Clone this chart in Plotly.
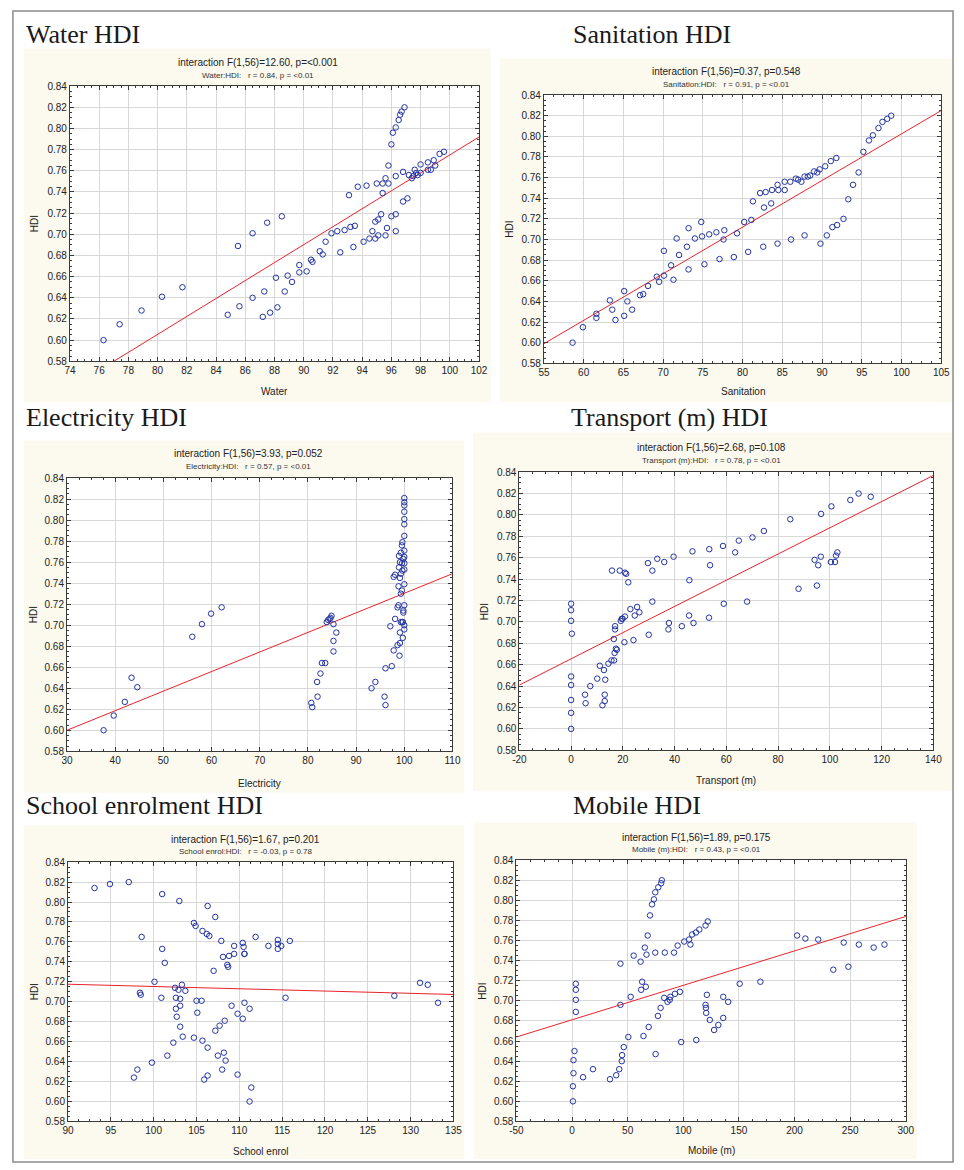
import plotly.graph_objects as go

W, H = 964, 1170

# ---------------- data ----------------
hdi_ticks = [0.58, 0.60, 0.62, 0.64, 0.66, 0.68, 0.70, 0.72, 0.74, 0.76, 0.78, 0.80, 0.82, 0.84]
hdi_ticktext = ["0.58", "0.60", "0.62", "0.64", "0.66", "0.68", "0.70", "0.72", "0.74", "0.76", "0.78", "0.80", "0.82", "0.84"]

water_x = [76.3, 77.4, 78.9, 80.3, 81.7, 84.8, 85.5, 85.6, 86.5, 86.5,
           87.2, 87.3, 87.5, 87.7, 88.1, 88.2, 88.5, 88.7, 88.9, 89.2,
           89.7, 89.7, 90.2, 90.5, 90.6, 91.1, 91.3, 91.5, 91.9, 92.3,
           92.5, 92.8, 93.1, 93.2, 93.4, 93.5, 93.7, 94.1, 94.3, 94.5,
           94.7, 94.9, 94.9, 95.0, 95.1, 95.1, 95.3, 95.4, 95.4, 95.6,
           95.6, 95.7, 95.8, 95.8, 96.0, 96.0, 96.1, 96.3, 96.3, 96.3,
           96.3, 96.5, 96.6, 96.7, 96.8, 96.8, 96.9, 97.1, 97.2, 97.4,
           97.5, 97.6, 97.7, 97.8, 98.0, 98.0, 98.5, 98.5, 98.7, 98.9,
           99.0, 99.3, 99.6]
water_hdi = [0.600, 0.615, 0.628, 0.641, 0.650, 0.624, 0.689, 0.632, 0.701, 0.640,
             0.622, 0.646, 0.711, 0.626, 0.659, 0.631, 0.717, 0.646, 0.661, 0.655,
             0.671, 0.664, 0.665, 0.676, 0.674, 0.684, 0.681, 0.693, 0.701, 0.703,
             0.683, 0.704, 0.737, 0.707, 0.688, 0.708, 0.745, 0.693, 0.746, 0.696,
             0.703, 0.696, 0.712, 0.748, 0.714, 0.699, 0.719, 0.748, 0.739, 0.699,
             0.753, 0.706, 0.765, 0.748, 0.785, 0.717, 0.796, 0.703, 0.801, 0.755,
             0.719, 0.808, 0.813, 0.816, 0.759, 0.731, 0.820, 0.734, 0.756, 0.753,
             0.755, 0.761, 0.758, 0.756, 0.758, 0.766, 0.768, 0.761, 0.761, 0.770,
             0.765, 0.776, 0.778]
water_fit_x = [77, 102]
water_fit_y = [0.580, 0.792]
water_ticks = [74, 76, 78, 80, 82, 84, 86, 88, 90, 92, 94, 96, 98, 100, 102]
water_ticktext = ["74", "76", "78", "80", "82", "84", "86", "88", "90", "92", "94", "96", "98", "100", "102"]

sanitation_x = [58.6, 59.9, 61.6, 61.6, 63.3, 63.6, 64.0, 65.1, 65.1, 65.5,
                66.1, 67.1, 67.5, 68.1, 69.2, 69.5, 70.1, 70.1, 71.0, 71.3,
                71.7, 72.0, 73.0, 73.2, 73.2, 74.0, 74.8, 74.9, 75.2, 75.8,
                76.7, 77.1, 77.6, 77.7, 78.9, 79.3, 80.2, 80.7, 81.1, 81.3,
                82.2, 82.6, 82.7, 82.9, 83.6, 83.7, 84.4, 84.4, 84.5, 85.3,
                85.3, 86.0, 86.1, 86.7, 87.0, 87.4, 87.8, 87.8, 88.2, 88.5,
                89.0, 89.4, 89.7, 89.8, 90.4, 90.6, 91.1, 91.3, 91.8, 91.9,
                92.7, 93.3, 93.9, 94.6, 95.2, 95.9, 96.4, 97.1, 97.6, 98.2,
                98.7]
sanitation_hdi = [0.600, 0.615, 0.628, 0.624, 0.641, 0.632, 0.622, 0.650, 0.626, 0.640,
                  0.632, 0.646, 0.647, 0.655, 0.664, 0.659, 0.689, 0.665, 0.675, 0.661,
                  0.701, 0.685, 0.693, 0.711, 0.671, 0.701, 0.717, 0.703, 0.676, 0.705,
                  0.707, 0.681, 0.700, 0.709, 0.683, 0.706, 0.717, 0.688, 0.719, 0.737,
                  0.745, 0.693, 0.731, 0.746, 0.735, 0.748, 0.696, 0.753, 0.748, 0.756,
                  0.748, 0.756, 0.700, 0.759, 0.758, 0.756, 0.704, 0.761, 0.761, 0.762,
                  0.766, 0.765, 0.768, 0.696, 0.771, 0.704, 0.776, 0.712, 0.779, 0.714,
                  0.720, 0.739, 0.753, 0.765, 0.785, 0.796, 0.801, 0.808, 0.814, 0.817,
                  0.820]
sanitation_fit_x = [55, 105]
sanitation_fit_y = [0.599, 0.825]
sanitation_ticks = [55, 60, 65, 70, 75, 80, 85, 90, 95, 100, 105]
sanitation_ticktext = ["55", "60", "65", "70", "75", "80", "85", "90", "95", "100", "105"]

electricity_x = [37.6, 39.7, 42.0, 43.4, 44.6, 56.0, 58.0, 59.9, 62.1, 80.7,
                 80.9, 81.9, 82.0, 82.6, 82.9, 83.6, 83.9, 84.2, 84.5, 84.7,
                 84.9, 85.3, 85.3, 85.3, 85.9, 93.2, 94.0, 95.9, 96.1, 96.1,
                 97.4, 97.1, 97.8, 98.1, 97.8, 98.1, 98.6, 98.6, 98.8, 98.8,
                 99.0, 99.1, 99.1, 99.3, 99.1, 98.9, 98.9, 99.3, 99.5, 99.3,
                 99.5, 99.6, 99.7, 99.7, 99.8, 99.8, 100.0, 100.0, 100.0, 100.0,
                 100.0, 100.0, 100.0, 100.0, 100.0, 100.0, 100.0, 100.0, 100.0, 100.0,
                 100.0, 99.5, 99.6, 99.1, 99.8, 99.6, 99.3]
electricity_hdi = [0.600, 0.614, 0.627, 0.650, 0.641, 0.689, 0.701, 0.711, 0.717, 0.626,
                   0.622, 0.646, 0.632, 0.654, 0.664, 0.664, 0.703, 0.705, 0.706, 0.707,
                   0.709, 0.701, 0.685, 0.675, 0.693, 0.640, 0.646, 0.632, 0.624, 0.659,
                   0.661, 0.699, 0.676, 0.706, 0.746, 0.748, 0.681, 0.717, 0.737, 0.719,
                   0.671, 0.683, 0.693, 0.703, 0.745, 0.755, 0.766, 0.730, 0.733, 0.769,
                   0.776, 0.779, 0.688, 0.703, 0.712, 0.714, 0.696, 0.700, 0.719, 0.739,
                   0.753, 0.759, 0.765, 0.771, 0.785, 0.796, 0.801, 0.808, 0.814, 0.817,
                   0.821, 0.759, 0.752, 0.760, 0.763, 0.703, 0.749]
electricity_fit_x = [30, 110]
electricity_fit_y = [0.600, 0.749]
electricity_ticks = [30, 40, 50, 60, 70, 80, 90, 100, 110]
electricity_ticktext = ["30", "40", "50", "60", "70", "80", "90", "100", "110"]

transport_x = [0, 0, 0, 0.3, 0, 0, 0, 0, 0, 5.4,
               5.6, 7.4, 10.1, 11.1, 12.1, 12.7, 13.0, 13.0, 13.2, 14.4,
               15.8, 15.6, 16.6, 16.5, 16.8, 17.0, 17.0, 17.3, 17.7, 18.8,
               19.2, 19.6, 19.9, 20.8, 20.6, 20.8, 21.3, 22.1, 22.9, 24.1,
               24.6, 25.5, 26.4, 29.7, 30.0, 31.4, 31.4, 33.3, 36.0, 37.6,
               37.8, 39.6, 42.8, 45.6, 45.7, 46.9, 47.3, 53.3, 53.4, 53.7,
               58.7, 59.0, 63.4, 64.8, 68.0, 70.1, 74.5, 84.7, 87.9, 94.1,
               95.0, 95.5, 96.5, 96.6, 100.4, 100.6, 102.0, 102.4, 102.9, 107.9,
               111.1, 115.8]
transport_hdi = [0.717, 0.711, 0.701, 0.689, 0.649, 0.641, 0.627, 0.615, 0.600, 0.632,
                 0.624, 0.640, 0.647, 0.659, 0.622, 0.655, 0.626, 0.632, 0.646, 0.661,
                 0.748, 0.664, 0.664, 0.684, 0.671, 0.696, 0.693, 0.675, 0.674, 0.748,
                 0.701, 0.703, 0.703, 0.705, 0.681, 0.746, 0.745, 0.737, 0.712, 0.683,
                 0.706, 0.714, 0.709, 0.755, 0.688, 0.748, 0.719, 0.759, 0.756, 0.693,
                 0.699, 0.761, 0.696, 0.706, 0.739, 0.766, 0.699, 0.704, 0.768, 0.753,
                 0.771, 0.717, 0.765, 0.776, 0.719, 0.779, 0.785, 0.796, 0.731, 0.758,
                 0.734, 0.753, 0.761, 0.801, 0.756, 0.808, 0.756, 0.762, 0.765, 0.814,
                 0.820, 0.817]
transport_fit_x = [-20, 140]
transport_fit_y = [0.641, 0.837]
transport_ticks = [-20, 0, 20, 40, 60, 80, 100, 120, 140]
transport_ticktext = ["-20", "0", "20", "40", "60", "80", "100", "120", "140"]

school_x = [93.1, 94.9, 97.1, 97.7, 98.1, 98.4, 98.5, 98.6, 99.8, 100.1,
            100.9, 101.0, 101.0, 101.3, 101.6, 102.3, 102.5, 102.6, 102.6, 102.7,
            102.9, 103.0, 103.1, 103.1, 103.1, 103.3, 103.4, 103.7, 104.7, 104.7,
            104.9, 105.0, 105.1, 105.6, 105.7, 105.7, 105.9, 106.2, 106.3, 106.3,
            106.3, 106.5, 107.0, 107.2, 107.2, 107.5, 107.7, 107.9, 108.0, 108.1,
            108.2, 108.3, 108.4, 108.6, 108.7, 108.8, 109.1, 109.4, 109.4, 109.8,
            109.8, 110.4, 110.4, 110.5, 110.6, 110.6, 110.6, 111.2, 111.2, 111.4,
            111.9, 113.4, 114.5, 114.5, 114.5, 114.9, 115.4, 115.9, 128.1, 131.1,
            132.0, 133.2]
school_hdi = [0.814, 0.818, 0.820, 0.624, 0.632, 0.709, 0.707, 0.765, 0.639, 0.720,
              0.704, 0.808, 0.753, 0.739, 0.646, 0.659, 0.714, 0.704, 0.693, 0.685,
              0.712, 0.801, 0.703, 0.696, 0.675, 0.717, 0.665, 0.711, 0.779, 0.664,
              0.776, 0.701, 0.689, 0.701, 0.771, 0.661, 0.622, 0.768, 0.796, 0.626,
              0.654, 0.766, 0.731, 0.785, 0.671, 0.646, 0.676, 0.761, 0.632, 0.745,
              0.649, 0.681, 0.641, 0.737, 0.735, 0.746, 0.696, 0.748, 0.756, 0.688,
              0.627, 0.683, 0.759, 0.755, 0.748, 0.748, 0.699, 0.693, 0.600, 0.614,
              0.765, 0.756, 0.762, 0.758, 0.753, 0.756, 0.704, 0.761, 0.706, 0.719,
              0.717, 0.699]
school_fit_x = [90, 135]
school_fit_y = [0.7176, 0.7073]
school_ticks = [90, 95, 100, 105, 110, 115, 120, 125, 130, 135]
school_ticktext = ["90", "95", "100", "105", "110", "115", "120", "125", "130", "135"]

mobile_x = [3.4, 3.4, 3.4, 3.4, 2.2, 1.3, 1.3, 0.8, 0.8, 9.9,
            18.8, 34.1, 39.7, 42.4, 43.5, 43.5, 44.7, 45.0, 46.5, 50.6,
            52.7, 55.4, 61.6, 62.1, 63.0, 64.2, 65.4, 66.3, 66.9, 68.0,
            68.9, 70.1, 71.9, 73.6, 74.8, 74.8, 75.1, 77.2, 77.5, 79.6,
            80.1, 80.7, 82.8, 83.4, 85.8, 87.8, 88.4, 91.7, 92.5, 94.9,
            97.0, 98.1, 100.8, 105.2, 106.4, 107.9, 111.4, 111.7, 114.4, 120.0,
            120.0, 120.3, 120.6, 121.2, 122.0, 123.8, 127.7, 131.5, 135.9, 135.9,
            140.3, 150.7, 169.3, 202.3, 209.7, 221.2, 234.8, 244.2, 248.4, 257.8,
            271.1, 280.8]
mobile_hdi = [0.717, 0.711, 0.701, 0.689, 0.650, 0.641, 0.628, 0.615, 0.600, 0.624,
              0.632, 0.622, 0.626, 0.632, 0.737, 0.696, 0.640, 0.646, 0.654, 0.664,
              0.704, 0.745, 0.739, 0.711, 0.719, 0.665, 0.753, 0.714, 0.746, 0.765,
              0.674, 0.785, 0.796, 0.801, 0.808, 0.748, 0.647, 0.685, 0.813, 0.693,
              0.817, 0.820, 0.703, 0.748, 0.699, 0.701, 0.704, 0.748, 0.707, 0.755,
              0.709, 0.659, 0.759, 0.761, 0.756, 0.766, 0.768, 0.661, 0.771, 0.775,
              0.696, 0.693, 0.688, 0.706, 0.779, 0.681, 0.671, 0.676, 0.704, 0.683,
              0.699, 0.717, 0.719, 0.765, 0.762, 0.761, 0.731, 0.758, 0.734, 0.756,
              0.753, 0.756]
mobile_fit_x = [-50, 300]
mobile_fit_y = [0.664, 0.784]
mobile_ticks = [-50, 0, 50, 100, 150, 200, 250, 300]
mobile_ticktext = ["-50", "0", "50", "100", "150", "200", "250", "300"]

panel_titles = ["Water HDI", "Sanitation HDI", "Electricity HDI", "Transport (m) HDI",
                "School enrolment HDI", "Mobile HDI"]
interaction_texts = ["interaction F(1,56)=12.60, p=<0.001", "interaction F(1,56)=0.37, p=0.548",
                     "interaction F(1,56)=3.93, p=0.052", "interaction F(1,56)=2.68, p=0.108",
                     "interaction F(1,56)=1.67, p=0.201", "interaction F(1,56)=1.89, p=0.175"]
correlation_texts = ["Water:HDI:   r = 0.84, p = <0.01", "Sanitation:HDI:   r = 0.91, p = <0.01",
                     "Electricity:HDI:   r = 0.57, p = <0.01", "Transport (m):HDI:   r = 0.78, p = <0.01",
                     "School enrol:HDI:   r = -0.03, p = 0.78", "Mobile (m):HDI:   r = 0.43, p = <0.01"]
x_labels = ["Water", "Sanitation", "Electricity", "Transport (m)", "School enrol", "Mobile (m)"]

series = [
    (water_x, water_hdi, water_fit_x, water_fit_y, water_ticks, water_ticktext, 2),
    (sanitation_x, sanitation_hdi, sanitation_fit_x, sanitation_fit_y, sanitation_ticks, sanitation_ticktext, 5),
    (electricity_x, electricity_hdi, electricity_fit_x, electricity_fit_y, electricity_ticks, electricity_ticktext, 10),
    (transport_x, transport_hdi, transport_fit_x, transport_fit_y, transport_ticks, transport_ticktext, 20),
    (school_x, school_hdi, school_fit_x, school_fit_y, school_ticks, school_ticktext, 5),
    (mobile_x, mobile_hdi, mobile_fit_x, mobile_fit_y, mobile_ticks, mobile_ticktext, 50),
]

# ---------------- layout geometry (pixels) ----------------
geom = [
    dict(box=(17, 43, 492, 400), plot=(64, 81, 480, 359), title=(18, 28.5), iy=57, cy=70, cx=255, xly=390, hx=28),
    dict(box=(501, 53, 962, 400), plot=(546, 90, 950, 361), title=(575, 28.5), iy=66, cy=79, cx=732, xly=390, hx=511),
    dict(box=(17, 439, 465, 795), plot=(61, 477, 453, 753), title=(18, 416), iy=452, cy=465, cx=246, xly=786, hx=27),
    dict(box=(474, 431, 962, 793), plot=(521, 471, 942, 752), title=(573, 416), iy=446, cy=459, cx=716, xly=783, hx=485),
    dict(box=(17, 828, 465, 1165), plot=(62, 865, 454, 1127), title=(18, 808), iy=842, cy=854, cx=243, xly=1157, hx=28),
    dict(box=(475, 825, 925, 1165), plot=(518, 863, 914, 1127), title=(575, 808), iy=840, cy=852, cx=701, xly=1156, hx=484),
]


def fx(p):
    return p / W


def fy(p):
    return 1 - p / H


SANS = "Liberation Sans, Arial, sans-serif"
SERIF = "Liberation Serif, Times New Roman, serif"
BEIGE = "#FCF9EF"
GRID = "#D8D8D8"
FRAME = "#3A3A3A"
BLUE = "#2334A3"
RED = "#E8232B"

fig = go.Figure()
shapes = []
annotations = []
layout_axes = {}

for i, ((xs, ys, fxs, fys, xt, xtt, xd), g) in enumerate(zip(series, geom), start=1):
    xa = "x" if i == 1 else f"x{i}"
    ya = "y" if i == 1 else f"y{i}"
    fig.add_trace(go.Scatter(x=fxs, y=fys, mode="lines", xaxis=xa, yaxis=ya,
                             line=dict(color=RED, width=1), showlegend=False, hoverinfo="skip"))
    fig.add_trace(go.Scatter(x=xs, y=ys, mode="markers", xaxis=xa, yaxis=ya,
                             marker=dict(symbol="circle-open", size=5.5, color=BLUE, line=dict(width=1)),
                             showlegend=False))
    px0, py0, px1, py1 = g["plot"]
    bx0, by0, bx1, by1 = g["box"]
    shapes.append(dict(type="rect", xref="paper", yref="paper", x0=fx(bx0), x1=fx(bx1),
                       y0=fy(by1), y1=fy(by0), fillcolor=BEIGE, line=dict(width=0), layer="below"))
    shapes.append(dict(type="rect", xref="paper", yref="paper", x0=fx(px0), x1=fx(px1),
                       y0=fy(py1), y1=fy(py0), fillcolor="white", line=dict(width=0), layer="below"))
    xkey = "xaxis" if i == 1 else f"xaxis{i}"
    ykey = "yaxis" if i == 1 else f"yaxis{i}"
    common = dict(showline=True, linecolor=FRAME, linewidth=1, mirror="ticks",
                  ticks="inside", ticklen=4, tickcolor=FRAME, tickwidth=1,
                  showgrid=True, gridcolor=GRID, gridwidth=1, zeroline=False,
                  tickfont=dict(family=SANS, size=10, color="#222"), tickmode="array")
    layout_axes[xkey] = dict(common, domain=[fx(px0), fx(px1)], anchor=ya, range=[xt[0], xt[-1]],
                             tickvals=xt, ticktext=xtt,
                             minor=dict(tickmode="linear", tick0=xt[0], dtick=xd / 4, ticks="inside",
                                        ticklen=2, tickcolor=FRAME, showgrid=False))
    layout_axes[ykey] = dict(common, domain=[fy(py1), fy(py0)], anchor=xa, range=[0.58, 0.84],
                             tickvals=hdi_ticks, ticktext=hdi_ticktext,
                             minor=dict(tickmode="linear", tick0=0.58, dtick=0.005, ticks="inside",
                                        ticklen=2, tickcolor=FRAME, showgrid=False))
    tx, ty = g["title"]
    annotations.append(dict(text=panel_titles[i - 1], x=fx(tx), y=fy(ty), xref="paper", yref="paper",
                            xanchor="left", yanchor="middle", showarrow=False, borderpad=0,
                            font=dict(family=SERIF, size=26, color="#1a1a1a")))
    annotations.append(dict(text=interaction_texts[i - 1], x=fx(g["cx"]), y=fy(g["iy"]), xref="paper",
                            yref="paper", xanchor="center", yanchor="middle", showarrow=False,
                            font=dict(family=SANS, size=10, color="#222")))
    annotations.append(dict(text=correlation_texts[i - 1].replace(" ", "\u00a0"), x=fx(g["cx"]), y=fy(g["cy"]),
                            xref="paper", yref="paper", xanchor="center", yanchor="middle", showarrow=False,
                            font=dict(family=SANS, size=8, color="#333")))
    annotations.append(dict(text=x_labels[i - 1], x=fx((px0 + px1) / 2), y=fy(g["xly"]), xref="paper",
                            yref="paper", xanchor="center", yanchor="middle", showarrow=False,
                            font=dict(family=SANS, size=10, color="#222")))
    annotations.append(dict(text="HDI", x=fx(g["hx"]), y=fy((py0 + py1) / 2), xref="paper", yref="paper",
                            xanchor="center", yanchor="middle", textangle=-90, showarrow=False,
                            font=dict(family=SANS, size=10, color="#222")))

# outer frame
shapes.append(dict(type="rect", xref="paper", yref="paper", x0=fx(6), x1=fx(962), y0=fy(1168), y1=fy(5),
                   line=dict(color="#8a8a8a", width=1.5), fillcolor="rgba(0,0,0,0)", layer="above"))

fig.update_layout(width=W, height=H, margin=dict(l=0, r=0, t=0, b=0),
                  paper_bgcolor="white", plot_bgcolor="white",
                  shapes=shapes, annotations=annotations, showlegend=False, **layout_axes)

fig.write_html("out.html", post_script="document.body.style.margin='0px';document.body.style.overflow='hidden';")
